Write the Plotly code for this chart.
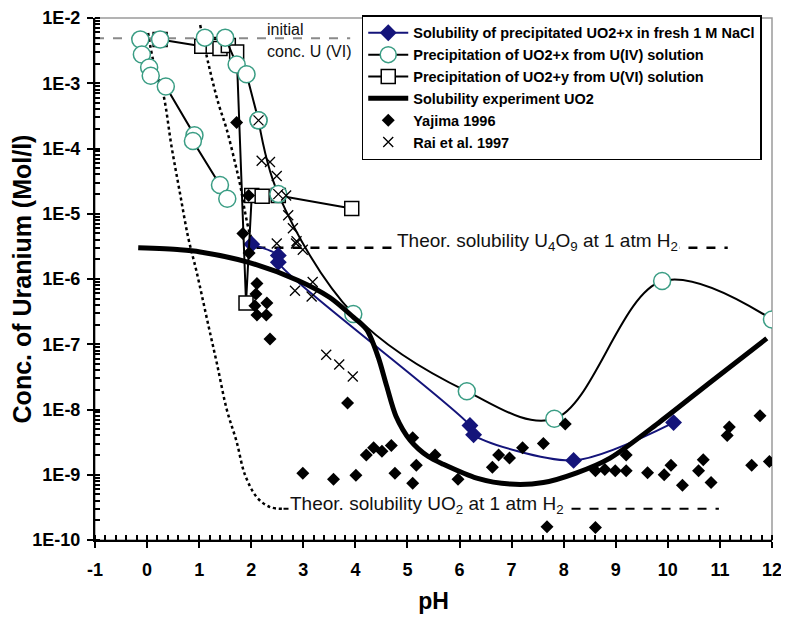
import plotly.graph_objects as go

# pH / concentration values (Mol/l)

# Solubility of precipitated UO2+x in fresh 1 M NaCl
sol_ph = [2.01, 2.52, 2.52, 6.20, 6.27, 8.19, 10.11]
sol_c = [3.4e-6, 2.3e-6, 1.8e-6, 5.7e-9, 4.1e-9, 1.66e-9, 6.3e-9]

# Precipitation of UO2+x from U(IV) solution (three runs)
u4a_ph = [-0.13, -0.10, 0.04, 0.07, 0.36, 0.91, 0.88, 1.40, 1.54]
u4a_c = [4.7e-3, 2.75e-3, 1.74e-3, 1.3e-3, 8.9e-4, 1.6e-4, 1.3e-4, 2.75e-5, 1.7e-5]
u4b_ph = [1.11, 1.50, 1.72, 1.91, 2.14]
u4b_c = [5.0e-3, 5.0e-3, 1.94e-3, 1.37e-3, 2.7e-4]
u4c_ph = [2.14, 2.52, 3.96, 6.14, 7.82, 9.89, 12.0]
u4c_c = [2.7e-4, 2.0e-5, 2.9e-7, 1.9e-8, 7.2e-9, 9.3e-7, 2.4e-7]
u4_extra_ph = [0.25]
u4_extra_c = [4.7e-3]

# Precipitation of UO2+y from U(VI) solution
u6_ph = [0.25, 1.05, 1.27, 1.40, 1.56, 1.72, 1.90, 2.01, 2.21, 2.52, 3.93]
u6_c = [4.7e-3, 3.7e-3, 3.7e-3, 3.4e-3, 3.8e-3, 3.0e-3, 4.3e-7, 1.9e-5, 1.85e-5, 1.9e-5, 1.2e-5]

# Solubility experiment UO2 (thick curve)
exp_ph = [-0.17, 0.63, 1.02, 1.95, 2.90, 3.51, 3.96, 4.22, 4.44, 4.60, 4.78, 5.05,
          5.40, 5.69, 6.33, 6.97, 7.61, 8.25, 8.89, 9.85, 10.81, 11.90]
exp_c = [3.0e-6, 2.8e-6, 2.6e-6, 1.8e-6, 9.5e-7, 5.2e-7, 2.6e-7, 1.66e-7, 6.3e-8, 2.3e-8,
         7.9e-9, 3.4e-9, 1.9e-9, 1.45e-9, 8.9e-10, 7.2e-10, 7.6e-10, 1.07e-9, 1.8e-9,
         6.5e-9, 2.6e-8, 1.23e-7]

# Yajima 1996
yaj_ph = [1.72, 1.84, 1.95, 1.96, 2.11, 2.09, 2.07, 2.30, 2.11, 2.29, 2.36, 3.85,
          2.99, 3.58, 4.01, 4.21, 4.35, 4.51, 4.69, 4.76, 5.10, 5.17, 5.10, 5.53,
          5.97, 6.63, 6.75, 6.96, 7.21, 7.61, 8.03, 8.61, 8.79, 8.99, 9.20, 9.20,
          9.61, 9.93, 10.06, 10.28, 10.59, 10.68, 10.83, 11.14, 11.18, 11.77,
          11.61, 11.95, 8.61, 7.68]
yaj_c = [2.5e-4, 5.0e-6, 1.9e-5, 2.5e-6, 8.5e-7, 5.9e-7, 3.9e-7, 4.3e-7, 2.8e-7,
         2.8e-7, 1.2e-7, 1.26e-8, 1.05e-9, 8.5e-10, 9.8e-10, 2.0e-9, 2.6e-9, 2.3e-9,
         2.8e-9, 1.05e-9, 3.7e-9, 1.4e-9, 7.4e-10, 2.0e-9, 8.5e-10, 1.3e-9, 2.0e-9,
         1.8e-9, 2.6e-9, 3.0e-9, 6.0e-9, 1.15e-9, 1.2e-9, 1.15e-9, 1.15e-9, 2.0e-9,
         1.07e-9, 1.0e-9, 1.4e-9, 6.9e-10, 1.15e-9, 1.7e-9, 7.6e-10, 4.0e-9, 5.4e-9,
         8.0e-9, 1.4e-9, 1.6e-9, 1.55e-10, 1.6e-10]

# Rai et al. 1997
rai_ph = [2.14, 2.20, 2.36, 2.49, 2.52, 2.67, 2.71, 2.80, 2.87, 2.49, 2.99, 2.86,
          2.84, 3.16, 3.18, 3.44, 3.69, 3.95]
rai_c = [2.7e-4, 6.5e-5, 6.2e-5, 3.8e-5, 2.0e-5, 1.9e-5, 9.5e-6, 6.0e-6, 3.8e-6,
         3.5e-6, 2.8e-6, 3.5e-6, 6.6e-7, 5.4e-7, 9.0e-7, 6.9e-8, 4.9e-8, 3.2e-8]

# theoretical curves
th_uo2_ph = [0.02, 0.12, 0.31, 0.47, 0.63, 0.79, 0.95, 1.18, 1.34, 1.53, 1.72, 1.88,
             2.11, 2.36, 2.62]
th_uo2_c = [5.9e-3, 2.2e-3, 6.9e-4, 1.07e-4, 2.1e-5, 4.3e-6, 1.3e-6, 1.9e-7, 5.1e-8,
            1.0e-8, 3.2e-9, 1.0e-9, 4.5e-10, 3.2e-10, 3.0e-10]
th_uo2_flat_ph = [2.62, 10.98]
th_uo2_flat_c = [3.0e-10, 3.0e-10]
th_u4o9_ph = [1.02, 1.18, 1.37, 1.53, 1.69, 1.79, 1.88, 1.98, 2.10]
th_u4o9_c = [7.8e-3, 1.95e-3, 4.9e-4, 1.95e-4, 6.0e-5, 2.7e-5, 1.07e-5, 4.8e-6, 3.0e-6]
th_u4o9_flat_ph = [2.10, 11.15]
th_u4o9_flat_c = [3.0e-6, 3.0e-6]

init_ph = [-1.0, 3.9]
init_c = [4.9e-3, 4.9e-3]

x_ticks = list(range(-1, 13))
x_ticktext = [str(v) for v in x_ticks]
y_ticks = [1e-2, 1e-3, 1e-4, 1e-5, 1e-6, 1e-7, 1e-8, 1e-9, 1e-10]
y_ticktext = ["1E-2", "1E-3", "1E-4", "1E-5", "1E-6", "1E-7", "1E-8", "1E-9", "1E-10"]

GREEN = "#3a9d84"
NAVY = "#14147a"

fig = go.Figure()

# background reference lines
fig.add_trace(go.Scatter(x=init_ph, y=init_c, mode="lines", showlegend=False,
                         line=dict(color="#8a8a8a", width=2, dash="dash")))
fig.add_trace(go.Scatter(x=th_uo2_ph, y=th_uo2_c, mode="lines", showlegend=False,
                         line=dict(color="black", width=2.5, dash="dot", shape="spline")))
fig.add_trace(go.Scatter(x=th_uo2_flat_ph, y=th_uo2_flat_c, mode="lines", showlegend=False,
                         line=dict(color="black", width=2, dash="dash")))
fig.add_trace(go.Scatter(x=th_u4o9_ph, y=th_u4o9_c, mode="lines", showlegend=False,
                         line=dict(color="black", width=2.5, dash="dot", shape="spline")))
fig.add_trace(go.Scatter(x=th_u4o9_flat_ph, y=th_u4o9_flat_c, mode="lines", showlegend=False,
                         line=dict(color="black", width=2.5, dash="dash")))

# legend series
fig.add_trace(go.Scatter(
    x=sol_ph, y=sol_c, mode="lines+markers",
    name="Solubility of precipitated UO2+x in fresh 1 M NaCl",
    line=dict(color=NAVY, width=2, shape="spline", smoothing=0.8),
    marker=dict(symbol="diamond", size=13, color=NAVY),
))
fig.add_trace(go.Scatter(
    x=u6_ph, y=u6_c, mode="lines+markers",
    name="Precipitation of UO2+y from U(VI) solution",
    line=dict(color="black", width=2),
    marker=dict(symbol="square", size=14, color="white", line=dict(color="black", width=1.5)),
))
circle_marker = dict(symbol="circle", size=17, color="white", line=dict(color=GREEN, width=1.5))
fig.add_trace(go.Scatter(
    x=u4a_ph, y=u4a_c, mode="lines+markers",
    name="Precipitation of UO2+x from U(IV) solution", legendgroup="u4",
    line=dict(color="black", width=2), marker=circle_marker,
))
fig.add_trace(go.Scatter(x=u4b_ph, y=u4b_c, mode="lines+markers", legendgroup="u4",
                         showlegend=False, line=dict(color="black", width=2),
                         marker=circle_marker))
fig.add_trace(go.Scatter(x=u4c_ph, y=u4c_c, mode="lines+markers", legendgroup="u4",
                         showlegend=False,
                         line=dict(color="black", width=2, shape="spline", smoothing=1.0),
                         marker=circle_marker))
fig.add_trace(go.Scatter(x=u4_extra_ph, y=u4_extra_c, mode="markers", legendgroup="u4",
                         showlegend=False, marker=circle_marker))
fig.add_trace(go.Scatter(
    x=exp_ph, y=exp_c, mode="lines", name="Solubility experiment UO2",
    line=dict(color="black", width=5, shape="spline", smoothing=0.8),
))
fig.add_trace(go.Scatter(
    x=yaj_ph, y=yaj_c, mode="markers", name="Yajima 1996",
    marker=dict(symbol="diamond", size=10, color="black"),
))
fig.add_trace(go.Scatter(
    x=rai_ph, y=rai_c, mode="markers", name="Rai et al. 1997",
    marker=dict(symbol="x-thin-open", size=10, color="black", line=dict(color="black", width=1.3)),
))

# reorder legend so it reads like the original
order = ["Solubility of precipitated UO2+x in fresh 1 M NaCl",
         "Precipitation of UO2+x from U(IV) solution",
         "Precipitation of UO2+y from U(VI) solution",
         "Solubility experiment UO2", "Yajima 1996", "Rai et al. 1997"]
for tr in fig.data:
    if tr.name in order:
        tr.legendrank = order.index(tr.name) + 1

txt = dict(family="Liberation Sans, Arial, sans-serif", color="#111111")
fig.add_annotation(x=2.27, y=-2.17, text="initial", showarrow=False,
                   xanchor="left", font=dict(size=16, **txt))
fig.add_annotation(x=2.27, y=-2.52, text="conc. U (VI)", showarrow=False,
                   xanchor="left", font=dict(size=16, **txt))
fig.add_annotation(x=4.76, y=-5.44, text="Theor. solubility U<sub>4</sub>O<sub>9</sub> at 1 atm H<sub>2</sub>",
                   showarrow=False, xanchor="left", bgcolor="white",
                   font=dict(size=19, **txt))
fig.add_annotation(x=2.70, y=-9.46, text="Theor. solubility UO<sub>2</sub> at 1 atm H<sub>2</sub>",
                   showarrow=False, xanchor="left", bgcolor="white",
                   font=dict(size=19, **txt))

# gray frame on top/right
fig.add_shape(type="rect", xref="paper", yref="paper", x0=0, x1=1, y0=0, y1=1,
              line=dict(color="#9a9a9a", width=1.5), layer="below")

bold = dict(family="Liberation Sans, Arial, sans-serif", color="black", weight="bold")
fig.update_layout(
    width=789, height=620,
    margin=dict(l=87, r=25, t=7, b=88),
    plot_bgcolor="white", paper_bgcolor="white",
    showlegend=True,
    legend=dict(x=0.394, y=1.005, xanchor="left", yanchor="top",
                bgcolor="white", bordercolor="black", borderwidth=1.5,
                font=dict(size=14.5, **bold), tracegroupgap=0, itemwidth=40),
    xaxis=dict(range=[-1, 12], tickvals=x_ticks, ticktext=x_ticktext,
               showgrid=False, zeroline=False, automargin=False,
               showline=True, linecolor="black", linewidth=2,
               ticks="outside", ticklen=6, tickwidth=2, tickcolor="black",
               ticklabelstandoff=6,
               minor=dict(dtick=0.2, ticks="inside", ticklen=5, tickwidth=1.5, tickcolor="black"),
               tickfont=dict(size=18, **bold),
               title=dict(text="pH", font=dict(size=23, **bold), standoff=14)),
    yaxis=dict(type="log", range=[-10, -2], tickvals=y_ticks, ticktext=y_ticktext,
               showgrid=False, zeroline=False, automargin=False,
               showline=True, linecolor="black", linewidth=2,
               ticks="outside", ticklen=6, tickwidth=2, tickcolor="black",
               ticklabelstandoff=3,
               minor=dict(dtick="D1", ticks="inside", ticklen=5, tickwidth=1.5, tickcolor="black"),
               tickfont=dict(size=18, **bold),
               title=dict(text="Conc. of Uranium (Mol/l)", font=dict(size=25, **bold), standoff=2)),
)

fig.write_html("out.html")
